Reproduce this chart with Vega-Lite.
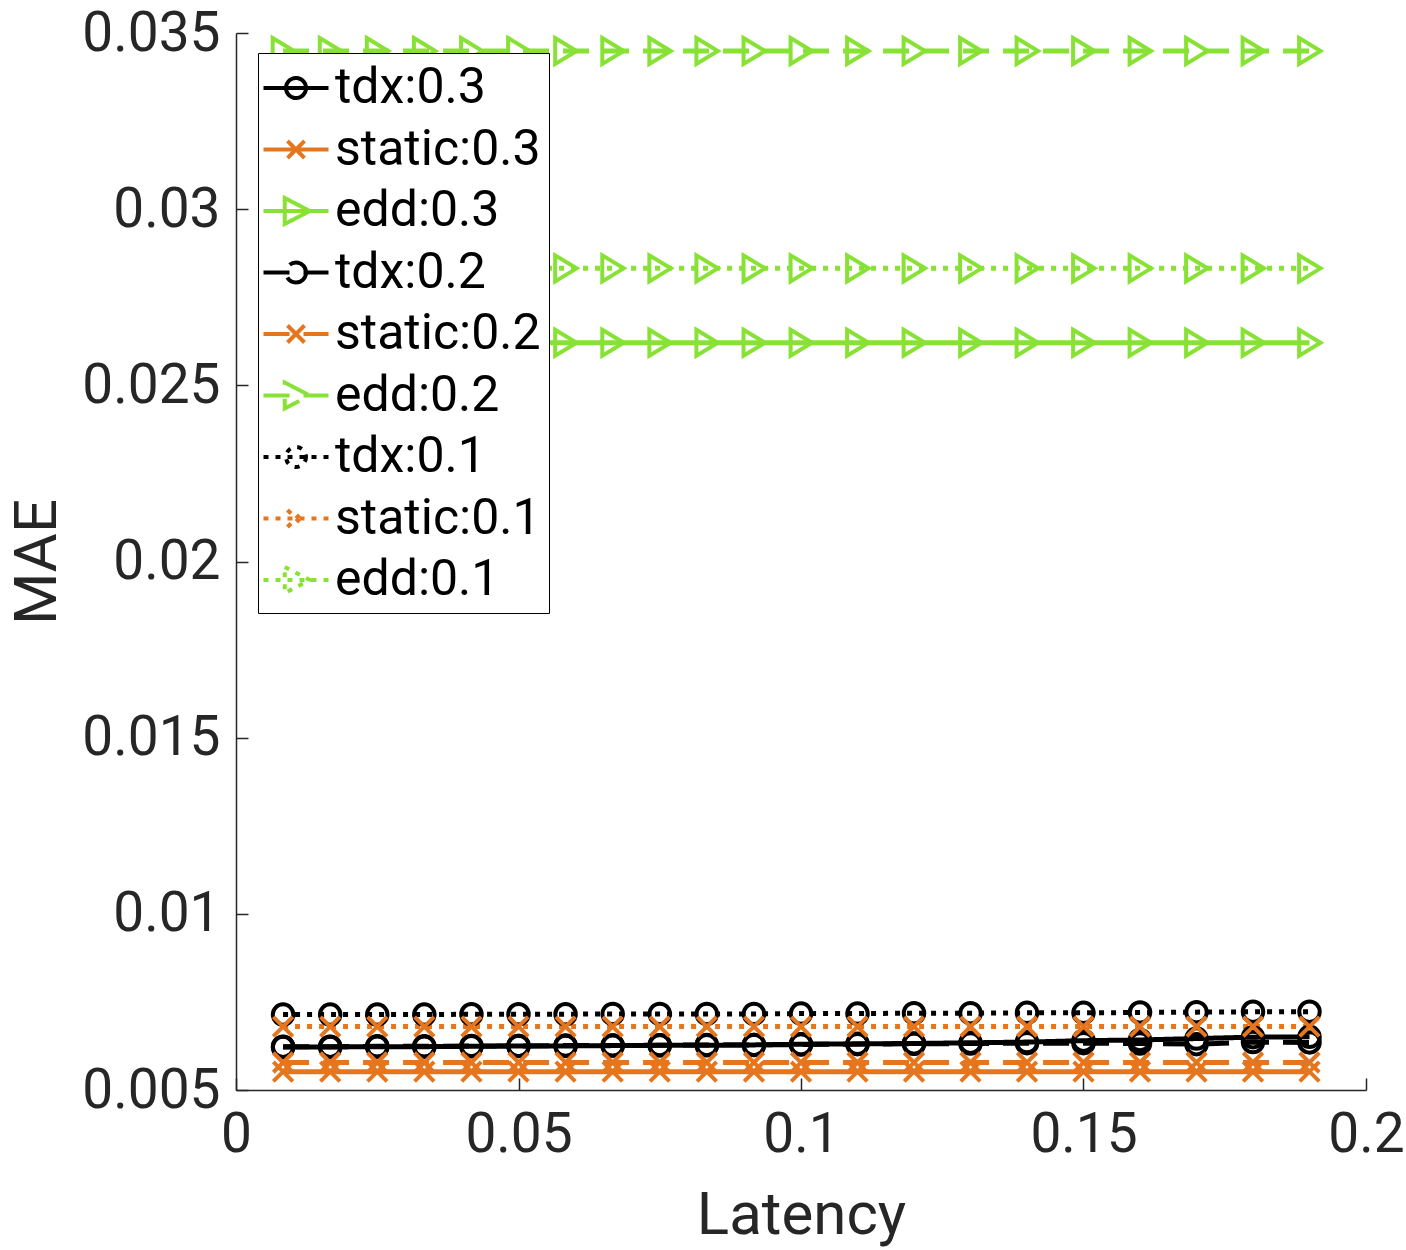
{
  "$schema": "https://vega.github.io/schema/vega-lite/v6.json",
  "width": 1130,
  "height": 1057,
  "autosize": "none",
  "padding": {"left": 236, "top": 33, "right": 40, "bottom": 160},
  "background": "white",
  "config": {
    "view": {"stroke": null},
    "font": "Roboto",
    "axis": {
      "grid": false,
      "domainColor": "#262626",
      "domainWidth": 1.5,
      "tickColor": "#262626",
      "tickWidth": 1.5,
      "tickSize": -12,
      "labelColor": "#262626",
      "labelFont": "Roboto",
      "labelFontSize": 55,
      "titleColor": "#262626",
      "titleFont": "Roboto",
      "titleFontSize": 60,
      "titleFontWeight": "normal"
    }
  },
  "data": {
    "values": [
      {"s": "tdx:0.3", "x": 0.00833, "y": 0.00622}, {"s": "tdx:0.3", "x": 0.01667, "y": 0.00622}, {"s": "tdx:0.3", "x": 0.025, "y": 0.00623}, {"s": "tdx:0.3", "x": 0.03333, "y": 0.00623}, {"s": "tdx:0.3", "x": 0.04167, "y": 0.00624}, {"s": "tdx:0.3", "x": 0.05, "y": 0.00625}, {"s": "tdx:0.3", "x": 0.05833, "y": 0.00625}, {"s": "tdx:0.3", "x": 0.06667, "y": 0.00626}, {"s": "tdx:0.3", "x": 0.075, "y": 0.00627}, {"s": "tdx:0.3", "x": 0.08333, "y": 0.00627}, {"s": "tdx:0.3", "x": 0.09167, "y": 0.00628}, {"s": "tdx:0.3", "x": 0.1, "y": 0.0063}, {"s": "tdx:0.3", "x": 0.11, "y": 0.00631}, {"s": "tdx:0.3", "x": 0.12, "y": 0.00632}, {"s": "tdx:0.3", "x": 0.13, "y": 0.00634}, {"s": "tdx:0.3", "x": 0.14, "y": 0.00636}, {"s": "tdx:0.3", "x": 0.15, "y": 0.0064}, {"s": "tdx:0.3", "x": 0.16, "y": 0.00642}, {"s": "tdx:0.3", "x": 0.17, "y": 0.00646}, {"s": "tdx:0.3", "x": 0.18, "y": 0.0065}, {"s": "tdx:0.3", "x": 0.19, "y": 0.00651},
      {"s": "static:0.3", "x": 0.00833, "y": 0.00552}, {"s": "static:0.3", "x": 0.01667, "y": 0.00552}, {"s": "static:0.3", "x": 0.025, "y": 0.00552}, {"s": "static:0.3", "x": 0.03333, "y": 0.00552}, {"s": "static:0.3", "x": 0.04167, "y": 0.00552}, {"s": "static:0.3", "x": 0.05, "y": 0.00552}, {"s": "static:0.3", "x": 0.05833, "y": 0.00552}, {"s": "static:0.3", "x": 0.06667, "y": 0.00552}, {"s": "static:0.3", "x": 0.075, "y": 0.00552}, {"s": "static:0.3", "x": 0.08333, "y": 0.00552}, {"s": "static:0.3", "x": 0.09167, "y": 0.00552}, {"s": "static:0.3", "x": 0.1, "y": 0.00552}, {"s": "static:0.3", "x": 0.11, "y": 0.00552}, {"s": "static:0.3", "x": 0.12, "y": 0.00552}, {"s": "static:0.3", "x": 0.13, "y": 0.00552}, {"s": "static:0.3", "x": 0.14, "y": 0.00552}, {"s": "static:0.3", "x": 0.15, "y": 0.00552}, {"s": "static:0.3", "x": 0.16, "y": 0.00552}, {"s": "static:0.3", "x": 0.17, "y": 0.00552}, {"s": "static:0.3", "x": 0.18, "y": 0.00552}, {"s": "static:0.3", "x": 0.19, "y": 0.00552},
      {"s": "edd:0.3", "x": 0.00833, "y": 0.02621}, {"s": "edd:0.3", "x": 0.01667, "y": 0.02621}, {"s": "edd:0.3", "x": 0.025, "y": 0.02621}, {"s": "edd:0.3", "x": 0.03333, "y": 0.02621}, {"s": "edd:0.3", "x": 0.04167, "y": 0.02621}, {"s": "edd:0.3", "x": 0.05, "y": 0.02621}, {"s": "edd:0.3", "x": 0.05833, "y": 0.02621}, {"s": "edd:0.3", "x": 0.06667, "y": 0.02621}, {"s": "edd:0.3", "x": 0.075, "y": 0.02621}, {"s": "edd:0.3", "x": 0.08333, "y": 0.02621}, {"s": "edd:0.3", "x": 0.09167, "y": 0.02621}, {"s": "edd:0.3", "x": 0.1, "y": 0.02621}, {"s": "edd:0.3", "x": 0.11, "y": 0.02621}, {"s": "edd:0.3", "x": 0.12, "y": 0.02621}, {"s": "edd:0.3", "x": 0.13, "y": 0.02621}, {"s": "edd:0.3", "x": 0.14, "y": 0.02621}, {"s": "edd:0.3", "x": 0.15, "y": 0.02621}, {"s": "edd:0.3", "x": 0.16, "y": 0.02621}, {"s": "edd:0.3", "x": 0.17, "y": 0.02621}, {"s": "edd:0.3", "x": 0.18, "y": 0.02621}, {"s": "edd:0.3", "x": 0.19, "y": 0.02621},
      {"s": "tdx:0.2", "x": 0.00833, "y": 0.00623}, {"s": "tdx:0.2", "x": 0.01667, "y": 0.00623}, {"s": "tdx:0.2", "x": 0.025, "y": 0.00624}, {"s": "tdx:0.2", "x": 0.03333, "y": 0.00624}, {"s": "tdx:0.2", "x": 0.04167, "y": 0.00625}, {"s": "tdx:0.2", "x": 0.05, "y": 0.00625}, {"s": "tdx:0.2", "x": 0.05833, "y": 0.00626}, {"s": "tdx:0.2", "x": 0.06667, "y": 0.00626}, {"s": "tdx:0.2", "x": 0.075, "y": 0.00627}, {"s": "tdx:0.2", "x": 0.08333, "y": 0.00628}, {"s": "tdx:0.2", "x": 0.09167, "y": 0.00628}, {"s": "tdx:0.2", "x": 0.1, "y": 0.00629}, {"s": "tdx:0.2", "x": 0.11, "y": 0.0063}, {"s": "tdx:0.2", "x": 0.12, "y": 0.00631}, {"s": "tdx:0.2", "x": 0.13, "y": 0.00632}, {"s": "tdx:0.2", "x": 0.14, "y": 0.00633}, {"s": "tdx:0.2", "x": 0.15, "y": 0.00633}, {"s": "tdx:0.2", "x": 0.16, "y": 0.00632}, {"s": "tdx:0.2", "x": 0.17, "y": 0.0063}, {"s": "tdx:0.2", "x": 0.18, "y": 0.00636}, {"s": "tdx:0.2", "x": 0.19, "y": 0.00635},
      {"s": "static:0.2", "x": 0.00833, "y": 0.00578}, {"s": "static:0.2", "x": 0.01667, "y": 0.00578}, {"s": "static:0.2", "x": 0.025, "y": 0.00578}, {"s": "static:0.2", "x": 0.03333, "y": 0.00578}, {"s": "static:0.2", "x": 0.04167, "y": 0.00578}, {"s": "static:0.2", "x": 0.05, "y": 0.00578}, {"s": "static:0.2", "x": 0.05833, "y": 0.00578}, {"s": "static:0.2", "x": 0.06667, "y": 0.00578}, {"s": "static:0.2", "x": 0.075, "y": 0.00578}, {"s": "static:0.2", "x": 0.08333, "y": 0.00578}, {"s": "static:0.2", "x": 0.09167, "y": 0.00578}, {"s": "static:0.2", "x": 0.1, "y": 0.00578}, {"s": "static:0.2", "x": 0.11, "y": 0.00578}, {"s": "static:0.2", "x": 0.12, "y": 0.00578}, {"s": "static:0.2", "x": 0.13, "y": 0.00578}, {"s": "static:0.2", "x": 0.14, "y": 0.00578}, {"s": "static:0.2", "x": 0.15, "y": 0.00578}, {"s": "static:0.2", "x": 0.16, "y": 0.00578}, {"s": "static:0.2", "x": 0.17, "y": 0.00578}, {"s": "static:0.2", "x": 0.18, "y": 0.00578}, {"s": "static:0.2", "x": 0.19, "y": 0.00578},
      {"s": "edd:0.2", "x": 0.00833, "y": 0.03449}, {"s": "edd:0.2", "x": 0.01667, "y": 0.03449}, {"s": "edd:0.2", "x": 0.025, "y": 0.03449}, {"s": "edd:0.2", "x": 0.03333, "y": 0.03449}, {"s": "edd:0.2", "x": 0.04167, "y": 0.03449}, {"s": "edd:0.2", "x": 0.05, "y": 0.03449}, {"s": "edd:0.2", "x": 0.05833, "y": 0.03449}, {"s": "edd:0.2", "x": 0.06667, "y": 0.03449}, {"s": "edd:0.2", "x": 0.075, "y": 0.03449}, {"s": "edd:0.2", "x": 0.08333, "y": 0.03449}, {"s": "edd:0.2", "x": 0.09167, "y": 0.03449}, {"s": "edd:0.2", "x": 0.1, "y": 0.03449}, {"s": "edd:0.2", "x": 0.11, "y": 0.03449}, {"s": "edd:0.2", "x": 0.12, "y": 0.03449}, {"s": "edd:0.2", "x": 0.13, "y": 0.03449}, {"s": "edd:0.2", "x": 0.14, "y": 0.03449}, {"s": "edd:0.2", "x": 0.15, "y": 0.03449}, {"s": "edd:0.2", "x": 0.16, "y": 0.03449}, {"s": "edd:0.2", "x": 0.17, "y": 0.03449}, {"s": "edd:0.2", "x": 0.18, "y": 0.03449}, {"s": "edd:0.2", "x": 0.19, "y": 0.03449},
      {"s": "tdx:0.1", "x": 0.00833, "y": 0.00714}, {"s": "tdx:0.1", "x": 0.01667, "y": 0.00714}, {"s": "tdx:0.1", "x": 0.025, "y": 0.00714}, {"s": "tdx:0.1", "x": 0.03333, "y": 0.00714}, {"s": "tdx:0.1", "x": 0.04167, "y": 0.00715}, {"s": "tdx:0.1", "x": 0.05, "y": 0.00715}, {"s": "tdx:0.1", "x": 0.05833, "y": 0.00715}, {"s": "tdx:0.1", "x": 0.06667, "y": 0.00716}, {"s": "tdx:0.1", "x": 0.075, "y": 0.00716}, {"s": "tdx:0.1", "x": 0.08333, "y": 0.00716}, {"s": "tdx:0.1", "x": 0.09167, "y": 0.00716}, {"s": "tdx:0.1", "x": 0.1, "y": 0.00717}, {"s": "tdx:0.1", "x": 0.11, "y": 0.00717}, {"s": "tdx:0.1", "x": 0.12, "y": 0.00718}, {"s": "tdx:0.1", "x": 0.13, "y": 0.00718}, {"s": "tdx:0.1", "x": 0.14, "y": 0.00719}, {"s": "tdx:0.1", "x": 0.15, "y": 0.00719}, {"s": "tdx:0.1", "x": 0.16, "y": 0.0072}, {"s": "tdx:0.1", "x": 0.17, "y": 0.00721}, {"s": "tdx:0.1", "x": 0.18, "y": 0.00722}, {"s": "tdx:0.1", "x": 0.19, "y": 0.00722},
      {"s": "static:0.1", "x": 0.00833, "y": 0.0068}, {"s": "static:0.1", "x": 0.01667, "y": 0.0068}, {"s": "static:0.1", "x": 0.025, "y": 0.0068}, {"s": "static:0.1", "x": 0.03333, "y": 0.0068}, {"s": "static:0.1", "x": 0.04167, "y": 0.0068}, {"s": "static:0.1", "x": 0.05, "y": 0.0068}, {"s": "static:0.1", "x": 0.05833, "y": 0.0068}, {"s": "static:0.1", "x": 0.06667, "y": 0.0068}, {"s": "static:0.1", "x": 0.075, "y": 0.0068}, {"s": "static:0.1", "x": 0.08333, "y": 0.0068}, {"s": "static:0.1", "x": 0.09167, "y": 0.0068}, {"s": "static:0.1", "x": 0.1, "y": 0.0068}, {"s": "static:0.1", "x": 0.11, "y": 0.0068}, {"s": "static:0.1", "x": 0.12, "y": 0.0068}, {"s": "static:0.1", "x": 0.13, "y": 0.0068}, {"s": "static:0.1", "x": 0.14, "y": 0.0068}, {"s": "static:0.1", "x": 0.15, "y": 0.0068}, {"s": "static:0.1", "x": 0.16, "y": 0.0068}, {"s": "static:0.1", "x": 0.17, "y": 0.0068}, {"s": "static:0.1", "x": 0.18, "y": 0.0068}, {"s": "static:0.1", "x": 0.19, "y": 0.0068},
      {"s": "edd:0.1", "x": 0.00833, "y": 0.02832}, {"s": "edd:0.1", "x": 0.01667, "y": 0.02832}, {"s": "edd:0.1", "x": 0.025, "y": 0.02832}, {"s": "edd:0.1", "x": 0.03333, "y": 0.02832}, {"s": "edd:0.1", "x": 0.04167, "y": 0.02832}, {"s": "edd:0.1", "x": 0.05, "y": 0.02832}, {"s": "edd:0.1", "x": 0.05833, "y": 0.02832}, {"s": "edd:0.1", "x": 0.06667, "y": 0.02832}, {"s": "edd:0.1", "x": 0.075, "y": 0.02832}, {"s": "edd:0.1", "x": 0.08333, "y": 0.02832}, {"s": "edd:0.1", "x": 0.09167, "y": 0.02832}, {"s": "edd:0.1", "x": 0.1, "y": 0.02832}, {"s": "edd:0.1", "x": 0.11, "y": 0.02832}, {"s": "edd:0.1", "x": 0.12, "y": 0.02832}, {"s": "edd:0.1", "x": 0.13, "y": 0.02832}, {"s": "edd:0.1", "x": 0.14, "y": 0.02832}, {"s": "edd:0.1", "x": 0.15, "y": 0.02832}, {"s": "edd:0.1", "x": 0.16, "y": 0.02832}, {"s": "edd:0.1", "x": 0.17, "y": 0.02832}, {"s": "edd:0.1", "x": 0.18, "y": 0.02832}, {"s": "edd:0.1", "x": 0.19, "y": 0.02832}
    ]
  },
  "encoding": {
    "x": {
      "field": "x", "type": "quantitative", "title": "Latency",
      "scale": {"domain": [0, 0.2], "nice": false, "zero": false},
      "axis": {"values": [0, 0.05, 0.1, 0.15, 0.2], "format": "~g", "labelPadding": 30, "titlePadding": 24, "labelFlush": false}
    },
    "y": {
      "field": "y", "type": "quantitative", "title": "MAE",
      "scale": {"domain": [0.005, 0.035], "nice": false, "zero": false},
      "axis": {"values": [0.005, 0.01, 0.015, 0.02, 0.025, 0.03, 0.035], "format": "~g", "labelPadding": 28, "titlePadding": 13, "labelFlush": false}
    },
    "color": {
      "field": "s", "type": "nominal",
      "scale": {
        "domain": ["tdx:0.3", "static:0.3", "edd:0.3", "tdx:0.2", "static:0.2", "edd:0.2", "tdx:0.1", "static:0.1", "edd:0.1"],
        "range": ["#000000", "#E6761E", "#88E236", "#000000", "#E6761E", "#88E236", "#000000", "#E6761E", "#88E236"]
      },
      "legend": {
        "title": null,
        "orient": "none",
        "legendX": 22,
        "legendY": 20,
        "padding": 8,
        "fillColor": "white",
        "strokeColor": "#000000",
        "cornerRadius": 0,
        "labelFont": "Roboto",
        "labelFontSize": 50,
        "labelColor": "#000000",
        "labelOffset": 12,
        "labelLimit": 400,
        "symbolOffset": 3,
        "symbolSize": 2500,
        "symbolStrokeWidth": 4,
        "rowPadding": 9.5,
        "encode": {
          "symbols": {
            "update": {
              "fill": {"value": "transparent"},
              "strokeWidth": {"value": 4},
              "opacity": {"value": 1},
              "shape": {"signal": "indexof(datum.value, 'tdx') == 0 ? 'M-1.3,0H1.3M0.4,0A0.4,0.4,0,1,1,-0.4,0A0.4,0.4,0,1,1,0.4,0' : indexof(datum.value, 'static') == 0 ? 'M-1.3,0H1.3M-0.34,-0.34L0.34,0.34M-0.34,0.34L0.34,-0.34' : 'M-1.3,0H1.3M-0.45,-0.52L0.55,0L-0.45,0.52Z'"},
              "strokeDash": {"signal": "indexof(datum.value, ':0.2') >= 0 ? [14, 8] : indexof(datum.value, ':0.1') >= 0 ? [5, 6] : [1, 0]"}
            }
          }
        }
      }
    }
  },
  "layer": [
    {
      "mark": {"type": "line", "strokeWidth": 5, "strokeCap": "butt"},
      "encoding": {
        "strokeDash": {
          "field": "s", "type": "nominal", "legend": null,
          "scale": {
            "domain": ["tdx:0.3", "static:0.3", "edd:0.3", "tdx:0.2", "static:0.2", "edd:0.2", "tdx:0.1", "static:0.1", "edd:0.1"],
            "range": [[1, 0], [1, 0], [1, 0], [26, 14], [26, 14], [26, 14], [5, 7], [5, 7], [5, 7]]
          }
        }
      }
    },
    {
      "transform": [{"filter": "indexof(datum.s, 'tdx') == 0"}],
      "mark": {"type": "point", "shape": "circle", "filled": false, "strokeWidth": 4, "opacity": 1, "size": 420}
    },
    {
      "transform": [{"filter": "indexof(datum.s, 'static') == 0"}],
      "mark": {"type": "point", "shape": "M-1,-1L1,1M-1,1L1,-1", "filled": false, "strokeWidth": 4, "opacity": 1, "size": 380}
    },
    {
      "transform": [{"filter": "indexof(datum.s, 'edd') == 0"}],
      "mark": {"type": "point", "shape": "M-0.8,-1L0.85,0L-0.8,1Z", "filled": false, "strokeWidth": 4, "opacity": 1, "size": 676}
    }
  ]
}
